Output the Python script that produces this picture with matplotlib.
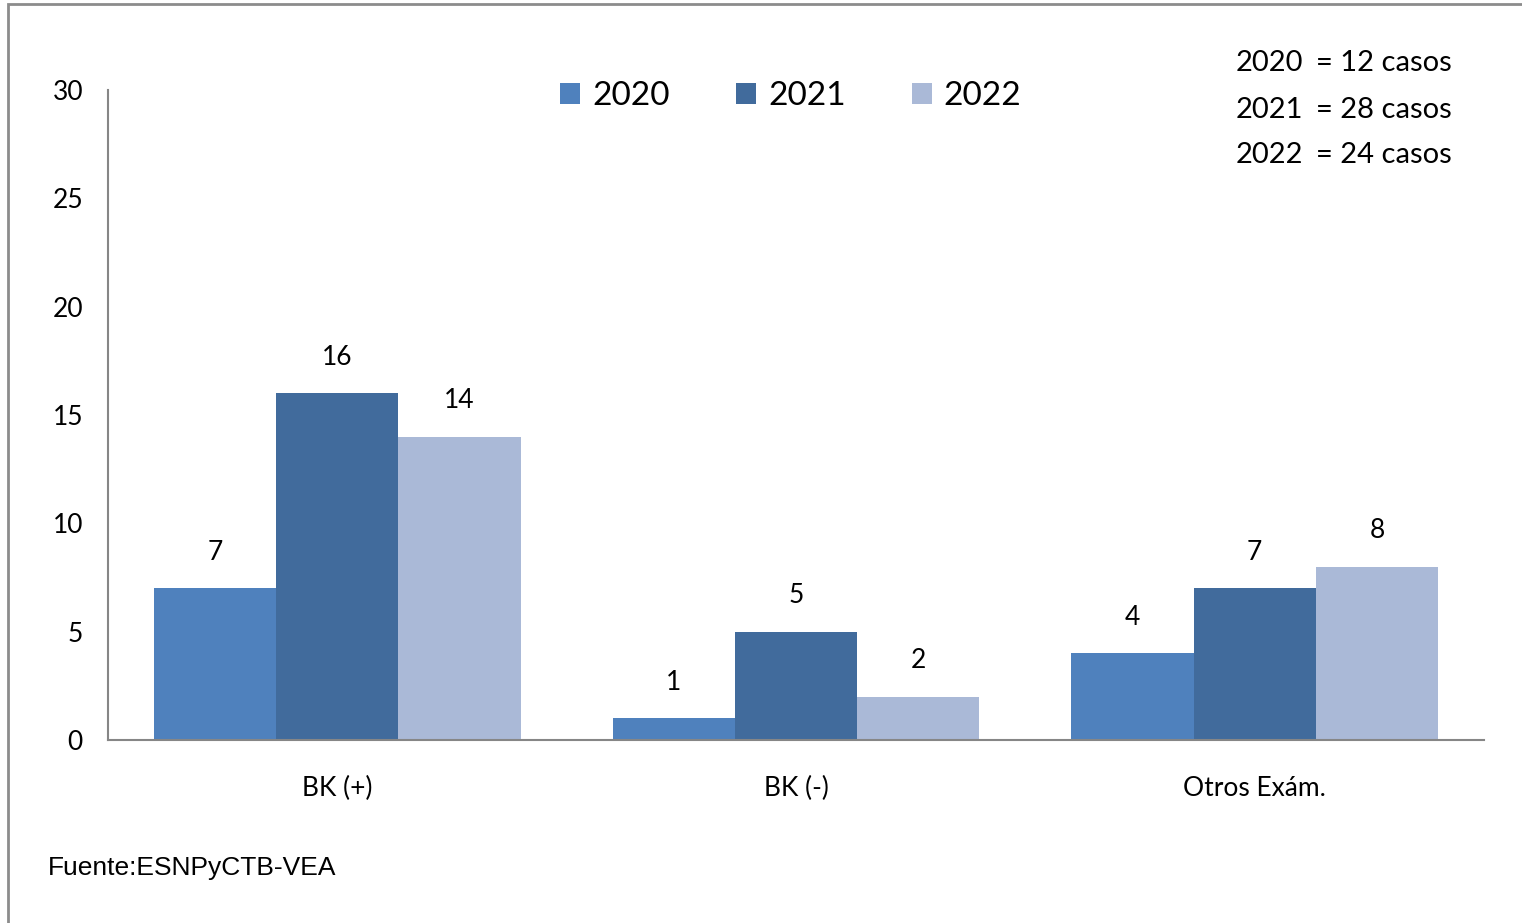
import numpy as np
import matplotlib.pyplot as plt
from matplotlib.patches import Rectangle, Patch

categories = ['BK (+)', 'BK (-)', 'Otros Exám.']
years = ['2020', '2021', '2022']
values_2020 = [7, 1, 4]
values_2021 = [16, 5, 7]
values_2022 = [14, 2, 8]
totals = [12, 28, 24]
yticks = [0, 5, 10, 15, 20, 25, 30]

colors = ['#4F81BD', '#416B9C', '#AAB9D7']
series = [values_2020, values_2021, values_2022]

plt.rcParams['font.family'] = ['Lato', 'DejaVu Sans']

W, H = 1522, 923
fig = plt.figure(figsize=(W / 100, H / 100), dpi=100)
ax = fig.add_axes([108 / W, 1 - 740 / H, (1484 - 108) / W, (740 - 90) / H])

x = np.arange(len(categories))
width = 0.8 / 3
for i, (vals, c) in enumerate(zip(series, colors)):
    pos = x + (i - 1) * width
    ax.bar(pos, vals, width=width, color=c, zorder=2)
    for px, v in zip(pos, vals):
        ax.annotate(str(v), (px, v), xytext=(0, 26), textcoords='offset points',
                    ha='center', va='center', fontsize=19)

ax.set_xlim(-0.5, len(categories) - 0.5)
ax.set_ylim(0, 30)
ax.set_yticks(yticks)
ax.set_xticks(x)
ax.set_xticklabels(categories, fontsize=19)
ax.tick_params(axis='both', length=0, labelsize=19)
ax.tick_params(axis='y', pad=18)
ax.tick_params(axis='x', pad=26)
for side in ['top', 'right']:
    ax.spines[side].set_visible(False)
for side in ['left', 'bottom']:
    ax.spines[side].set_color('#868686')
    ax.spines[side].set_linewidth(1.5)

handles = [Patch(facecolor=c, label=y) for c, y in zip(colors, years)]
fig.legend(handles=handles, loc='center', bbox_to_anchor=(791 / W, 1 - 96 / H),
           ncol=3, frameon=False, fontsize=24, handlelength=0.6, handleheight=0.6,
           handletextpad=0.35, columnspacing=2.0)

for k, (yr, tot) in enumerate(zip(years, totals)):
    yy = 1 - [63, 110, 155][k] / H
    fig.text(1236 / W, yy, yr, fontsize=21, ha='left', va='center')
    fig.text(1316 / W, yy, f'= {tot} casos', fontsize=21, ha='left', va='center')

fig.text(48 / W, 1 - 868 / H, 'Fuente:ESNPyCTB-VEA', fontsize=19,
         family='Liberation Sans', ha='left', va='center')

fig.patches.append(Rectangle((8 / W, -0.1), 1.2, 1 - 4 / H + 0.1,
                             transform=fig.transFigure, fill=False,
                             edgecolor='#8C8C8C', linewidth=2))

fig.savefig('out.png', dpi=100)
